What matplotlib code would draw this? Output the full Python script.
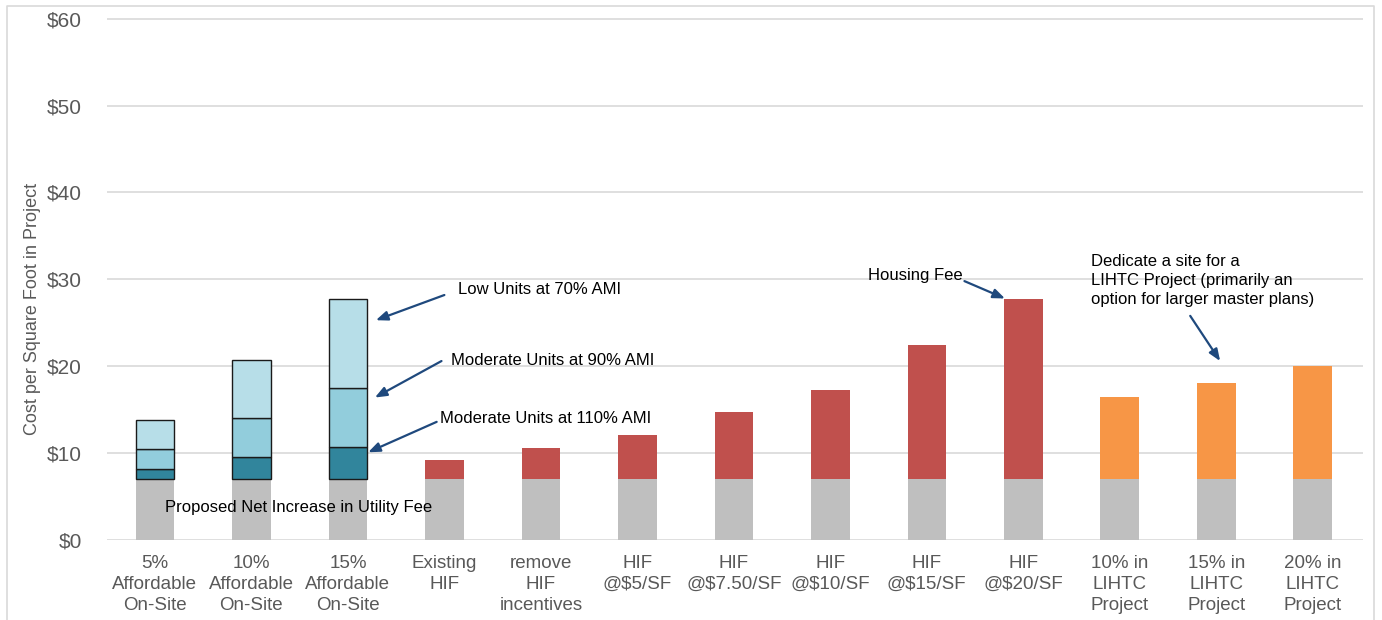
import matplotlib
matplotlib.use("Agg")
import matplotlib.pyplot as plt
from matplotlib.lines import Line2D

plt.rcParams['font.family'] = ['Liberation Sans', 'DejaVu Sans']

# categories along the x axis
categories = ['5%\nAffordable\nOn-Site', '10%\nAffordable\nOn-Site', '15%\nAffordable\nOn-Site',
              'Existing\nHIF', 'remove\nHIF\nincentives', 'HIF\n@$5/SF', 'HIF\n@$7.50/SF',
              'HIF\n@$10/SF', 'HIF\n@$15/SF', 'HIF\n@$20/SF',
              '10% in\nLIHTC\nProject', '15% in\nLIHTC\nProject', '20% in\nLIHTC\nProject']

# utility fee increase under every option ($/SF)
utility_fee = [7, 7, 7, 7, 7, 7, 7, 7, 7, 7, 7, 7, 7]

# on-site affordable options, stacked by income level ($/SF)
onsite_idx = [0, 1, 2]
mod_110 = [1.2, 2.5, 3.7]
mod_90 = [2.3, 4.5, 6.8]
low_70 = [3.3, 6.7, 10.2]

# housing impact fee options
hif_idx = [3, 4, 5, 6, 7, 8, 9]
housing_fee = [2.2, 3.6, 5.1, 7.7, 10.3, 15.5, 20.7]

# LIHTC site dedication options
lihtc_idx = [10, 11, 12]
lihtc_cost = [9.5, 11.1, 13.0]

yticks = [0, 10, 20, 30, 40, 50, 60]

fig = plt.figure(figsize=(13.82, 6.2), dpi=100)
ax = fig.add_axes([0.0774, 0.129, 0.9088, 0.9768 - 0.129])

w = 0.4
x_all = list(range(len(categories)))
ax.bar(x_all, utility_fee, width=w, color='#BFBFBF', zorder=2)

edge = dict(edgecolor='#1a1a1a', linewidth=1.0, zorder=3)
b1 = [utility_fee[i] for i in onsite_idx]
ax.bar(onsite_idx, mod_110, width=w, bottom=b1, color='#31859C', **edge)
b2 = [a + b for a, b in zip(b1, mod_110)]
ax.bar(onsite_idx, mod_90, width=w, bottom=b2, color='#92CDDC', **edge)
b3 = [a + b for a, b in zip(b2, mod_90)]
ax.bar(onsite_idx, low_70, width=w, bottom=b3, color='#B7DEE8', **edge)

ax.bar(hif_idx, housing_fee, width=w, bottom=[utility_fee[i] for i in hif_idx],
       color='#C0504D', zorder=2)
ax.bar(lihtc_idx, lihtc_cost, width=w, bottom=[utility_fee[i] for i in lihtc_idx],
       color='#F79646', zorder=2)

ax.set_xlim(-0.497, 12.52)
ax.set_ylim(0, 60.5)
ax.set_yticks(yticks)
ax.set_yticklabels(['${}'.format(v) for v in yticks])
ax.set_xticks(x_all)
ax.set_xticklabels(categories, linespacing=1.3)
ax.yaxis.grid(True, color='#D9D9D9', linewidth=1.2, zorder=0)
ax.set_axisbelow(True)
for s in ax.spines.values():
    s.set_visible(False)
ax.tick_params(axis='y', length=0, pad=18, labelsize=15, labelcolor='#595959')
ax.tick_params(axis='x', length=0, pad=11, labelsize=13.5, labelcolor='#595959')
ax.set_ylabel('Cost per Square Foot in Project', fontsize=13, color='#595959')
ax.yaxis.set_label_coords(-0.0525, 0.44)

# callouts
arrow = dict(arrowstyle='-|>,head_length=0.7,head_width=0.28', color='#1F497D',
             lw=1.6, shrinkA=0, shrinkB=0)
callouts = [
    ((2.29, 25.3), (3.00, 28.2)),
    ((2.28, 16.4), (2.97, 20.6)),
    ((2.21, 10.1), (2.92, 13.6)),
    ((8.81, 27.8), (8.39, 29.8)),
    ((11.04, 20.6), (10.73, 25.8)),
]
for head, tail in callouts:
    ax.annotate('', xy=head, xytext=tail, arrowprops=arrow, zorder=5)

tkw = dict(fontsize=12, color='black', zorder=6)
ax.text(3.14, 28.8, 'Low Units at 70% AMI', ha='left', va='center', **tkw)
ax.text(3.07, 20.7, 'Moderate Units at 90% AMI', ha='left', va='center', **tkw)
ax.text(2.95, 14.0, 'Moderate Units at 110% AMI', ha='left', va='center', **tkw)
ax.text(0.10, 3.7, 'Proposed Net Increase in Utility Fee', ha='left', va='center', **tkw)
ax.text(8.37, 30.4, 'Housing Fee', ha='right', va='center', **tkw)
ax.text(9.70, 29.9, 'Dedicate a site for a\nLIHTC Project (primarily an\noption for larger master plans)',
        ha='left', va='center', linespacing=1.35, **tkw)

# light frame around the figure
x0, x1, yt = 7 / 1382, 1374 / 1382, 1 - 6 / 620
fig.add_artist(Line2D([x0, x0, x1, x1], [-0.01, yt, yt, -0.01],
                      transform=fig.transFigure, color='#D9D9D9', lw=1.2))

fig.savefig('out.png', dpi=100)
